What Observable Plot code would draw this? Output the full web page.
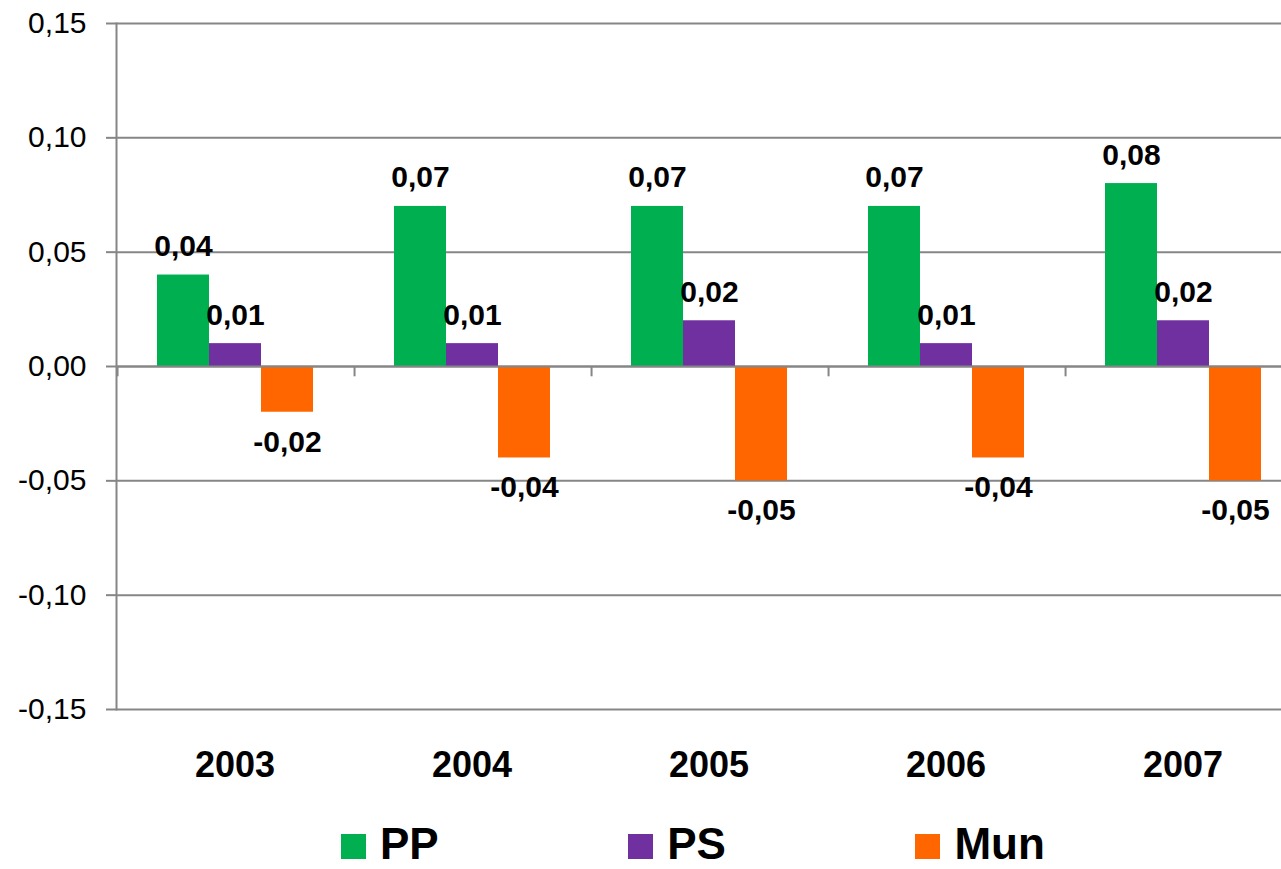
<!DOCTYPE html>
<html><head><meta charset="utf-8">
<script src="https://cdn.jsdelivr.net/npm/d3@7"></script>
<script src="https://cdn.jsdelivr.net/npm/@observablehq/plot@0.6"></script>
<style>
html,body{margin:0;padding:0;background:#fff;overflow:hidden;width:1281px;height:869px}
#chart svg{display:block;max-width:none !important}
.legend{display:flex;align-items:center;padding-left:341px;padding-top:23px;gap:189.5px;font-family:"Liberation Sans",Arial,sans-serif;font-weight:bold;font-size:44px;line-height:41px;color:#000}
.item{display:flex;align-items:center;height:41px}
.sw{width:25px;height:25px;margin-right:14px;position:relative;top:3px}
</style></head><body><div id="chart"></div><div class="legend" id="legend"></div><script>
const years = ["2003","2004","2005","2006","2007"];
const series = ["PP","PS","Mun"];
const colors = ["#00B050","#7030A0","#FF6600"];
const ppValues = [0.04,0.07,0.07,0.07,0.08];
const psValues = [0.01,0.01,0.02,0.01,0.02];
const munValues = [-0.02,-0.04,-0.05,-0.04,-0.05];
const yTicks = [-0.15,-0.10,-0.05,0,0.05,0.10,0.15];

const valuesBySeries = {PP: ppValues, PS: psValues, Mun: munValues};
const table = years.flatMap((year, i) => series.map(s => ({year, series: s, value: valuesBySeries[s][i]})));

const W = 1302, H = 800, ML = 115, MT = 23, MB = 91;
const facetStep = (W - ML) / years.length;
const xPadOuter = 0.75;
const xStep = facetStep / (series.length + 2 * xPadOuter);
const edgeDx = -(xPadOuter + 0.5) * xStep;
const fmt = d3.formatLocale({decimal: ",", thousands: ".", grouping: [3], currency: ["", "€"], minus: "-"}).format(".2f");
const grid = "#868686";
const font = '"Liberation Sans", Arial, sans-serif';

const chart = Plot.plot({
  width: W, height: H, marginLeft: ML, marginRight: 0, marginTop: MT, marginBottom: MB,
  style: {fontFamily: font, color: "#000", background: "#fff", overflow: "visible", maxWidth: "none"},
  fx: {domain: years, padding: 0, label: null},
  x: {domain: series, paddingInner: 0, paddingOuter: xPadOuter, axis: null},
  y: {domain: [-0.15, 0.15]},
  color: {domain: series, range: colors},
  marks: [
    Plot.ruleY(yTicks, {stroke: grid, strokeWidth: 2}),
    Plot.barY(table, {fx: "year", x: "series", y: "value", fill: "series"}),
    Plot.ruleY([0], {stroke: grid, strokeWidth: 2}),
    Plot.ruleX(years, {fx: d => d, x: () => series[0], y1: 0, y2: -0.0045, dx: edgeDx, stroke: grid, strokeWidth: 2}),
    Plot.frame({anchor: "left", facetAnchor: "left", stroke: grid, strokeWidth: 2}),
    Plot.axisY({ticks: yTicks, tickFormat: fmt, tickSize: 10, tickPadding: 20, fontSize: 30, stroke: grid, strokeWidth: 2, label: null}),
    Plot.axisFx({anchor: "bottom", tickSize: 0, tickPadding: 42, fontSize: 36, fontWeight: "bold", label: null}),
    Plot.text(table.filter(d => d.value >= 0), {fx: "year", x: "series", y: "value", text: d => fmt(d.value), lineAnchor: "bottom", dy: -19, fontSize: 30, fontWeight: "bold", fill: "#000"}),
    Plot.text(table.filter(d => d.value < 0), {fx: "year", x: "series", y: "value", text: d => fmt(d.value), lineAnchor: "top", dy: 18, fontSize: 30, fontWeight: "bold", fill: "#000"})
  ]
});
document.getElementById("chart").appendChild(chart);

const legend = document.getElementById("legend");
series.forEach((s, i) => {
  const item = document.createElement("div");
  item.className = "item";
  const sw = document.createElement("span");
  sw.className = "sw";
  sw.style.background = colors[i];
  const label = document.createElement("span");
  label.textContent = s;
  item.appendChild(sw);
  item.appendChild(label);
  legend.appendChild(item);
});
</script></body></html>
